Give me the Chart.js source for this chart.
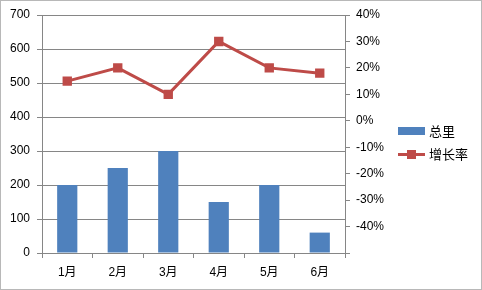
<!DOCTYPE html>
<html>
<head>
<meta charset="utf-8">
<script src="https://cdn.jsdelivr.net/npm/chart.js@4"></script>
<style>
    html, body { margin: 0; padding: 0; background: #fff; }
    #wrap { position: relative; width: 482px; height: 290px; box-sizing: border-box; border: 1px solid #b8b8b8; }
    canvas { position: absolute; left: -1px; top: -1px; }
    #legend { position: absolute; left: 397px; top: 118px; font: 13px "Noto Sans CJK SC", sans-serif; color: #000; }
    .item { display: flex; align-items: center; height: 23px; }
    .swatch { width: 27px; height: 14px; margin-right: 4px; position: relative; }
</style>
</head>
<body>
<div id="wrap">
    <canvas id="chart" width="482" height="290"></canvas>
    <div id="legend"></div>
</div>
<script>
const categories = ["1月", "2月", "3月", "4月", "5月", "6月"];
const totalValues = [200, 250, 300, 150, 200, 60];
const growthValues = [15, 20, 10, 30, 20, 18];
const seriesNames = ["总里", "增长率"];

const barColor = "#4f81bd";
const lineColor = "#be4b48";
const axisColor = "#868686";
const tickFont = { family: "'Liberation Sans', Arial, 'Noto Sans CJK SC', sans-serif", size: 12 };

const chart = new Chart(document.getElementById("chart"), {
    data: {
        labels: categories,
        datasets: [
            {
                type: "line",
                label: seriesNames[1],
                data: growthValues,
                yAxisID: "y1",
                borderColor: lineColor,
                backgroundColor: lineColor,
                borderWidth: 3,
                pointStyle: "rect",
                pointRadius: 4.5,
                pointHoverRadius: 4.5,
                tension: 0
            },
            {
                type: "bar",
                label: seriesNames[0],
                data: totalValues,
                yAxisID: "y",
                backgroundColor: barColor,
                categoryPercentage: 1,
                barPercentage: 0.4
            }
        ]
    },
    options: {
        responsive: false,
        animation: false,
        layout: { padding: { top: 15, left: 0, right: 0, bottom: 0 } },
        plugins: {
            legend: { display: false },
            tooltip: { enabled: false }
        },
        scales: {
            x: {
                afterFit: (s) => { s.height = 37; },
                grid: { drawOnChartArea: false, color: axisColor, tickLength: 5, offset: true },
                border: { color: axisColor },
                ticks: { color: "#000", font: tickFont, padding: 7 }
            },
            y: {
                position: "left",
                min: 0,
                max: 700,
                afterFit: (s) => { s.width = 42; },
                grid: { color: axisColor, tickLength: 5 },
                border: { color: axisColor },
                ticks: { stepSize: 100, color: "#000", font: tickFont, padding: 7 }
            },
            y1: {
                position: "right",
                min: -50,
                max: 40,
                afterFit: (s) => { s.width = 137; },
                grid: { drawOnChartArea: false, color: axisColor, tickLength: 5 },
                border: { color: axisColor },
                ticks: {
                    stepSize: 10,
                    color: "#000",
                    font: tickFont,
                    padding: 6,
                    callback: (v) => (v === -50 ? "" : v + "%")
                }
            }
        }
    }
});

// legend in the Excel style: bar swatch, then line with a square marker
const legend = document.getElementById("legend");
[
    { name: seriesNames[0], kind: "bar", color: barColor },
    { name: seriesNames[1], kind: "line", color: lineColor }
].forEach((s) => {
    const item = document.createElement("div");
    item.className = "item";
    const sw = document.createElement("div");
    sw.className = "swatch";
    if (s.kind === "bar") {
        sw.innerHTML = '<div style="position:absolute;left:0;top:3px;width:27px;height:8px;background:' + s.color + '"></div>';
    } else {
        sw.innerHTML = '<div style="position:absolute;left:0;top:6px;width:27px;height:3px;background:' + s.color + '"></div>' +
            '<div style="position:absolute;left:9px;top:3px;width:9px;height:9px;background:' + s.color + '"></div>';
    }
    item.appendChild(sw);
    const t = document.createElement("span");
    t.textContent = s.name;
    item.appendChild(t);
    legend.appendChild(item);
});
</script>
</body>
</html>
